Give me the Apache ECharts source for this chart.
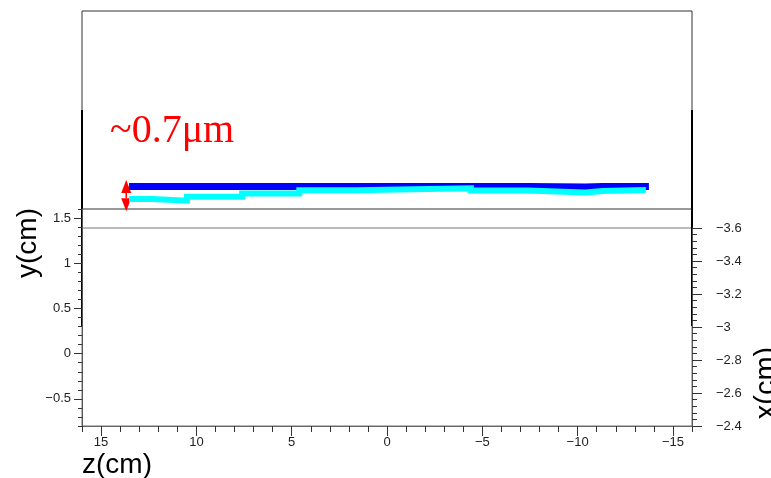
<!DOCTYPE html>
<html>
<head>
<meta charset="utf-8">
<script src="https://cdn.jsdelivr.net/npm/echarts@6/dist/echarts.min.js"></script>
<style>
html, body { margin: 0; padding: 0; background: #fff; }
#chart { width: 771px; height: 478px; }
</style>
</head>
<body>
<div id="chart"></div>
<script>
// step edges along z (cm)
const stepZ = [13.53, 12.3, 10.5, 7.6, 4.6, 1.6, -1.4, -4.4, -7.4, -10.4, -11.3]
const blueEndZ = -13.74
const cyanEndZ = -13.58
// offsets of the two tracks (um)
const blueVals = [0.51, 0.51, 0.51, 0.51, 0.51, 0.51, 0.51, 0.51, 0.5, 0.51, 0.51]
const cyanVals = [0.23, 0.19, 0.28, 0.35, 0.425, 0.45, 0.47, 0.42, 0.375, 0.41, 0.43]

// tick labels
const zTicks = [15, 10, 5, 0, -5, -10, -15]
const yTicks = [1.5, 1, 0.5, 0, -0.5]

// red arrow for the ~0.7um gap: z, low end, high end
const arrowData = [[13.68, -0.05, 0.66]]

// histogram-like outline: flat on each bin, vertical at the edges
function steps(vals, endZ) {
  const edges = stepZ.concat([endZ])
  const d = []
  vals.forEach((v, i) => {
    d.push([edges[i], v])
    d.push([edges[i + 1], v])
  })
  return d
}
const minus = v => String(Number(Number(v).toFixed(2))).replace('-', '\u2212')

const labelFont = { fontFamily: 'Liberation Sans', fontSize: 13, color: '#222' }
const tickCol = '#333'

function drawArrow(params, api) {
  const lo = api.coord([api.value(0), api.value(1)])
  const hi = api.coord([api.value(0), api.value(2)])
  const w = 5, h = 13
  return {
    type: 'group',
    children: [
      { type: 'line', shape: { x1: lo[0], y1: lo[1] - h, x2: hi[0], y2: hi[1] + h }, style: { stroke: '#ff0000', lineWidth: 1.5 } },
      { type: 'polygon', shape: { points: [[hi[0] - w, hi[1] + h], [hi[0] + w, hi[1] + h], [hi[0], hi[1]]] }, style: { fill: '#ff0000' } },
      { type: 'polygon', shape: { points: [[lo[0] - w, lo[1] - h], [lo[0] + w, lo[1] - h], [lo[0], lo[1]]] }, style: { fill: '#ff0000' } }
    ]
  }
}

const chart = echarts.init(document.getElementById('chart'))
chart.setOption({
  animation: false,
  backgroundColor: '#fff',
  grid: [
    { left: 82, right: 79, top: 11, height: 198, show: true, borderColor: '#333', borderWidth: 1, outerBoundsMode: 'none' },
    { left: 82, right: 79, top: 209, bottom: 52, outerBoundsMode: 'none' },
    { left: 82, right: 79, top: 228, bottom: 52, show: true, borderColor: '#777', borderWidth: 1, outerBoundsMode: 'none' }
  ],
  xAxis: [
    { gridIndex: 0, type: 'value', min: -16, max: 16, inverse: true, show: false },
    {
      gridIndex: 1, type: 'value', min: -16, max: 16, inverse: true, position: 'bottom',
      axisLine: { onZero: false, lineStyle: { color: '#666', width: 1 } },
      axisTick: { customValues: zTicks, length: 10, lineStyle: { color: tickCol } },
      axisLabel: Object.assign({ customValues: zTicks, margin: 10, formatter: minus }, labelFont),
      splitLine: { show: false }
    },
    {
      gridIndex: 1, type: 'value', min: -16, max: 16, interval: 1, inverse: true, position: 'bottom',
      axisLine: { show: false, onZero: false },
      axisTick: { length: 6, lineStyle: { color: tickCol } },
      axisLabel: { show: false },
      splitLine: { show: false }
    },
    { gridIndex: 2, type: 'value', min: -16, max: 16, inverse: true, show: false }
  ],
  yAxis: [
    { gridIndex: 0, type: 'value', min: 0, max: 4.5, show: false },
    {
      gridIndex: 1, type: 'value', min: -0.8, max: 1.6, position: 'left',
      axisLine: { show: true, onZero: false, lineStyle: { color: '#555', width: 1 } },
      axisTick: { show: true, customValues: yTicks, length: 8, lineStyle: { color: tickCol } },
      axisLabel: Object.assign({ customValues: yTicks, margin: 11, formatter: minus }, labelFont),
      splitLine: { show: false }
    },
    {
      gridIndex: 1, type: 'value', min: -0.8, max: 1.6, interval: 0.1, position: 'left',
      axisLine: { show: false, onZero: false },
      axisTick: { show: true, length: 4, lineStyle: { color: tickCol } },
      axisLabel: { show: false },
      splitLine: { show: false }
    },
    {
      gridIndex: 2, type: 'value', min: -3.6, max: -2.4, interval: 0.2, inverse: true, position: 'right',
      axisLine: { show: true, onZero: false, lineStyle: { color: '#555', width: 1 } },
      axisTick: { show: true, length: 10, lineStyle: { color: tickCol } },
      minorTick: { show: true, splitNumber: 5, length: 5, lineStyle: { color: tickCol } },
      axisLabel: Object.assign({ margin: 24, formatter: minus }, labelFont),
      splitLine: { show: false }
    }
  ],
  series: [
    {
      type: 'line', xAxisIndex: 0, yAxisIndex: 0, symbol: 'none',
      lineStyle: { color: '#0000ff', width: 7, join: 'miter' },
      data: steps(blueVals, blueEndZ)
    },
    {
      type: 'line', xAxisIndex: 0, yAxisIndex: 0, symbol: 'none',
      lineStyle: { color: '#00ffff', width: 6, join: 'miter' },
      data: steps(cyanVals, cyanEndZ)
    },
    {
      type: 'custom', xAxisIndex: 0, yAxisIndex: 0, silent: true, clip: false,
      encode: { x: 0, y: [1, 2] },
      renderItem: drawArrow,
      data: arrowData
    }
  ],
  graphic: [
    { type: 'line', shape: { x1: 82, y1: 110, x2: 82, y2: 326 }, style: { stroke: '#000', lineWidth: 2 } },
    { type: 'line', shape: { x1: 692, y1: 110, x2: 692, y2: 326 }, style: { stroke: '#000', lineWidth: 2 } },
    { type: 'text', x: 110, y: 131, style: { text: '~0.7\u03bcm', font: '40px "Liberation Serif"', fill: '#ff0000', textAlign: 'left', textVerticalAlign: 'middle' } },
    { type: 'text', x: 28, y: 243, rotation: Math.PI / 2, style: { text: 'y(cm)', font: '28px "Liberation Sans"', fill: '#000', textAlign: 'center', textVerticalAlign: 'middle' } },
    { type: 'text', x: 82, y: 465, style: { text: 'z(cm)', font: '28px "Liberation Sans"', fill: '#000', textAlign: 'left', textVerticalAlign: 'middle' } },
    { type: 'text', x: 767, y: 383, rotation: Math.PI / 2, style: { text: 'x(cm)', font: '29px "Liberation Sans"', fill: '#000', textAlign: 'center', textVerticalAlign: 'middle' } }
  ]
})
</script>
</body>
</html>
